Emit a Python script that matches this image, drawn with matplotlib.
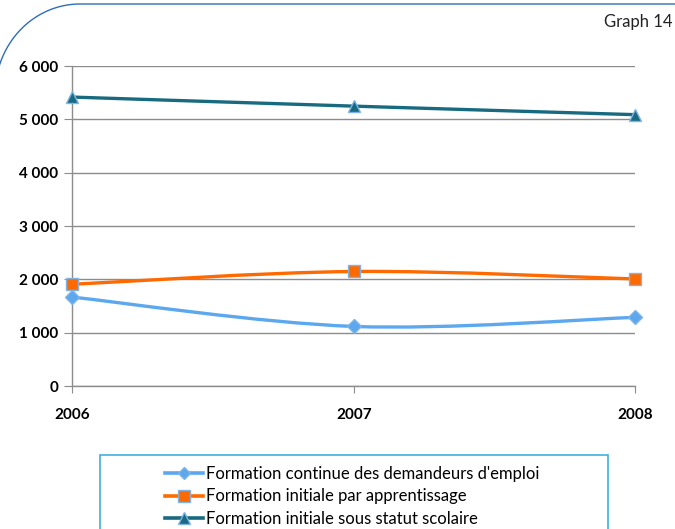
import numpy as np
import matplotlib.pyplot as plt
from matplotlib.path import Path
from matplotlib.patches import PathPatch, Rectangle
from matplotlib.lines import Line2D

plt.rcParams['font.family'] = ['Lato', 'DejaVu Sans']

# data
years = [2006, 2007, 2008]
continue_demandeurs = [1670, 1120, 1290]
initiale_apprentissage = [1910, 2150, 2010]
initiale_scolaire = [5420, 5250, 5090]

series_labels = ["Formation continue des demandeurs d'emploi",
                 "Formation initiale par apprentissage",
                 "Formation initiale sous statut scolaire"]
y_ticks = [0, 1000, 2000, 3000, 4000, 5000, 6000]
y_tick_labels = ["0", "1 000", "2 000", "3 000", "4 000", "5 000", "6 000"]


def smooth_path(xs, ys):
    # Excel-like smoothed line: Catmull-Rom converted to cubic Bezier
    pts = np.column_stack([xs, ys]).astype(float)
    verts = [pts[0]]
    codes = [Path.MOVETO]
    n = len(pts)
    for i in range(n - 1):
        p_prev = pts[i - 1] if i > 0 else pts[i]
        p_next = pts[i + 2] if i + 2 < n else pts[i + 1]
        c1 = pts[i] + (pts[i + 1] - p_prev) / 6
        c2 = pts[i + 1] - (p_next - pts[i]) / 6
        verts += [c1, c2, pts[i + 1]]
        codes += [Path.CURVE4] * 3
    return Path(verts, codes)


fig = plt.figure(figsize=(6.75, 5.29), dpi=100)
ax = fig.add_axes([0.107, 0.270, 0.834, 0.605])

styles = [
    (continue_demandeurs, '#5ba8ef', 'D', '#5ba8ef', 7),
    (initiale_apprentissage, '#ff6a00', 's', '#ff6a00', 9),
    (initiale_scolaire, '#176a80', '^', '#176a80', 9),
]
for vals, col, mk, mfc, ms in styles:
    ax.add_patch(PathPatch(smooth_path(years, vals), fill=False,
                           edgecolor=col, lw=2.4, capstyle='round', zorder=3))
    ax.plot(years, vals, ls='none', marker=mk, ms=ms, mfc=mfc,
            mec='#7fb3e6', mew=1.0, clip_on=False, zorder=4)

ax.set_xlim(2006, 2008)
ax.set_ylim(0, 6000)
ax.set_yticks(y_ticks)
ax.set_yticklabels(y_tick_labels, fontsize=11, fontweight='bold')
ax.set_xticks(years)
ax.set_xticklabels([str(y) for y in years], fontsize=11, fontweight='bold')
ax.tick_params(axis='y', length=6, color='#8c8c8c', pad=4)
ax.tick_params(axis='x', length=5, color='#8c8c8c', pad=11)
ax.grid(axis='y', color='#8c8c8c', lw=1.0)
ax.set_axisbelow(True)
for s in ['top', 'right']:
    ax.spines[s].set_visible(False)
for s in ['left', 'bottom']:
    ax.spines[s].set_color('#8c8c8c')
    ax.spines[s].set_linewidth(1.0)

# legend box
fig.add_artist(Rectangle((100 / 675, -0.05), 508 / 675, 0.05 + 74 / 529,
                         transform=fig.transFigure, fill=False,
                         edgecolor='#3fb0e0', lw=1.2))
handles = [Line2D([], [], color=c, lw=2.6, marker=m, ms=s * 0.9, mfc=f,
                  mec='#7fb3e6', mew=1.0) for _, c, m, f, s in styles]
fig.legend(handles, series_labels, loc='upper center',
           bbox_to_anchor=(0.522, 0.148), frameon=False, fontsize=12,
           handlelength=2.3, handletextpad=0.18, labelspacing=0.4,
           alignment='left')

# rounded frame at top-left
t = np.linspace(np.pi / 2, np.pi, 60)
fx = 80 + 85 * np.cos(t)
fy = 94 - 90 * np.sin(t)
fx = np.concatenate([[675], fx])
fy = np.concatenate([[4], fy])
fig.add_artist(Line2D(fx / 675, 1 - fy / 529, transform=fig.transFigure,
                      color='#2e6eb5', lw=1.0))

fig.text(0.997, 1 - 22 / 529, 'Graph 14', ha='right', va='center',
         fontsize=12, color='#222222')

fig.savefig('out.png', dpi=100)
